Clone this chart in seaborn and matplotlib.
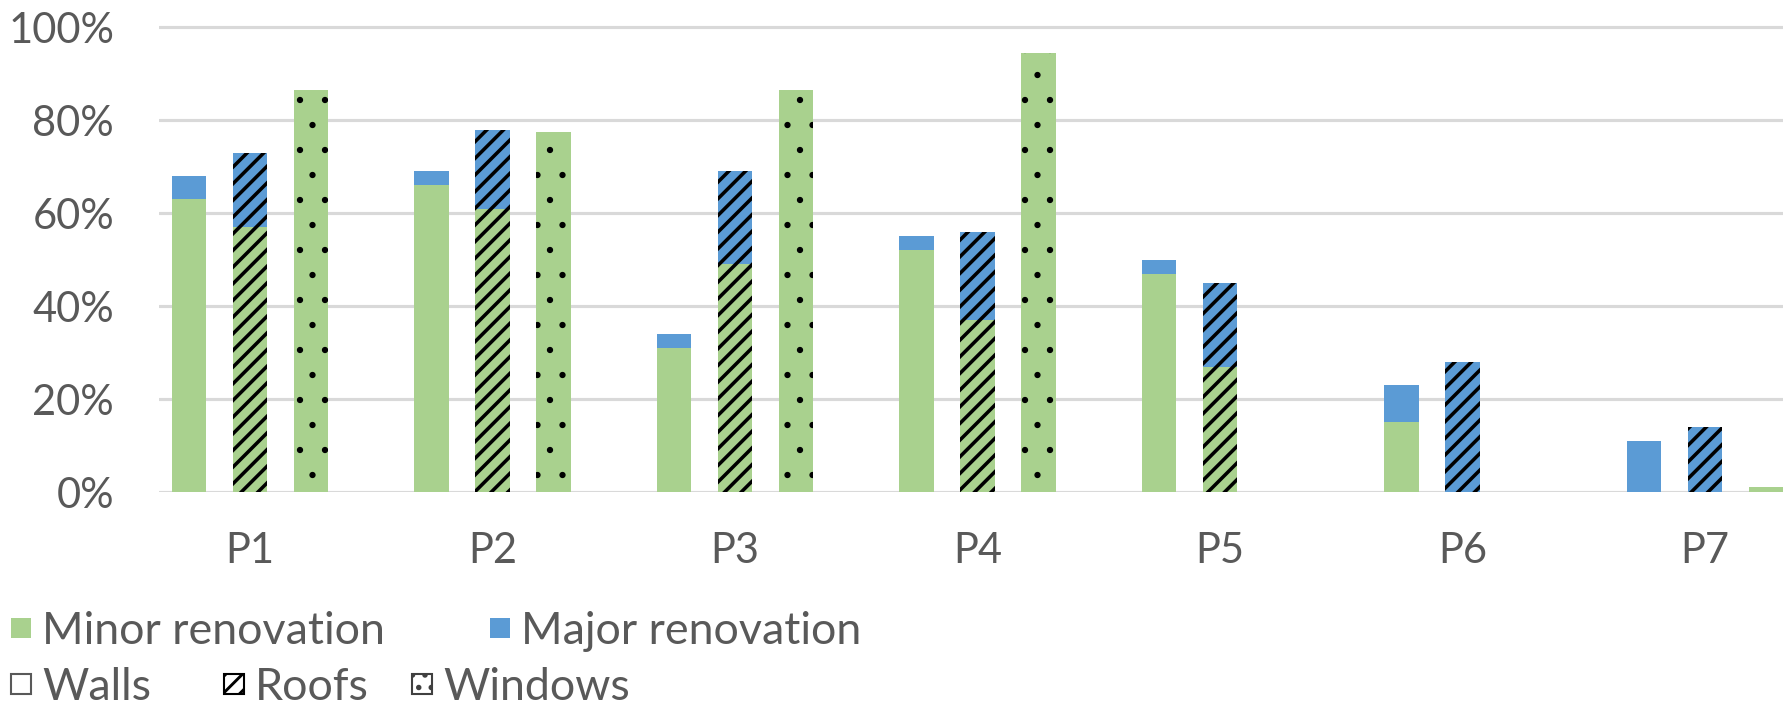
import matplotlib
matplotlib.use("Agg")
import matplotlib.pyplot as plt
from matplotlib.patches import Patch
from matplotlib.ticker import PercentFormatter
import pandas as pd
import seaborn as sns

# ---- data (shares of buildings, %) ----
projects = ["P1", "P2", "P3", "P4", "P5", "P6", "P7"]
elements = ["Walls", "Roofs", "Windows"]

walls_minor = [63, 66, 31, 52, 47, 15, 0]
walls_major = [5, 3, 3, 3, 3, 8, 11]
roofs_minor = [57, 61, 49, 37, 27, 0, 0]
roofs_major = [16, 17, 20, 19, 18, 28, 14]
windows_minor = [86.5, 77.5, 86.5, 94.5, 0, 0, 1]
windows_major = [0, 0, 0, 0, 0, 0, 0]

renovation_labels = ["Minor renovation", "Major renovation"]
y_ticks = [0, 20, 40, 60, 80, 100]

# ---- styling ----
W, H, DPI = 1783, 706, 150
MINOR_COLOR = "#A9D18E"
MAJOR_COLOR = "#5B9BD5"
TEXT_COLOR = "#595959"
GRID_COLOR = "#D9D9D9"
HATCHES = {"Walls": "", "Roofs": "///", "Windows": "."}
HATCH_LW = {"Walls": 1.0, "Roofs": 1.7, "Windows": 0.6}

minor = {"Walls": walls_minor, "Roofs": roofs_minor, "Windows": windows_minor}
major = {"Walls": walls_major, "Roofs": roofs_major, "Windows": windows_major}

rows = []
for el in elements:
    for p, mi, ma in zip(projects, minor[el], major[el]):
        rows.append({"project": p, "element": el, "minor": mi, "total": mi + ma})
df = pd.DataFrame(rows)

sns.set_theme(style="white")
plt.rcParams["font.family"] = ["Lato", "DejaVu Sans"]
plt.rcParams["hatch.linewidth"] = 1.4
plt.rcParams["hatch.color"] = "black"

fig = plt.figure(figsize=(W / DPI, H / DPI), dpi=DPI)
px_per_pct = (492 - 27.3) / 100
y_top = 102
ax = fig.add_axes([159 / W, (H - 492) / H, (W - 159) / W, y_top * px_per_pct / H])

common = dict(
    data=df, x="project", hue="element", order=projects, hue_order=elements,
    width=0.755, gap=0.435, errorbar=None, saturation=1, legend=False, ax=ax,
)
# full bar height (minor + major) in blue, then the minor share on top in green
sns.barplot(y="total", palette={e: MAJOR_COLOR for e in elements}, **common)
sns.barplot(y="minor", palette={e: MINOR_COLOR for e in elements}, **common)

for i, cont in enumerate(ax.containers):
    el = elements[i % len(elements)]
    for bar in cont:
        bar.set_edgecolor("black")
        bar.set_linewidth(0)
        bar.set_hatch(HATCHES[el])
        if hasattr(bar, "set_hatch_linewidth"):
            bar.set_hatch_linewidth(HATCH_LW[el])

ax.set_xlim(-0.375, 6.322)
ax.set_ylim(0, y_top)
ax.set_yticks(y_ticks)
ax.yaxis.set_major_formatter(PercentFormatter(100, decimals=0))
ax.set_xlabel("")
ax.set_ylabel("")
ax.set_axisbelow(True)
ax.yaxis.grid(True, color=GRID_COLOR, linewidth=1.5)
ax.xaxis.grid(False)
for s in ax.spines.values():
    s.set_visible(False)
ax.tick_params(axis="both", length=0, labelsize=20, labelcolor=TEXT_COLOR)
ax.tick_params(axis="y", pad=21.5)
ax.tick_params(axis="x", pad=19)

# ---- legends: one entry per legend so each sits at its own x ----
fs_leg = 21.5
hl = 0.45
hh = (hl - 0.245) / 0.65
leg_kw = dict(loc="center left", frameon=False, fontsize=fs_leg, handlelength=hl,
              handleheight=hh, handletextpad=0.25, borderpad=0, borderaxespad=0,
              labelcolor=TEXT_COLOR)

row1 = [
    (Patch(facecolor=MINOR_COLOR, edgecolor="none", label=renovation_labels[0]), 11),
    (Patch(facecolor=MAJOR_COLOR, edgecolor="none", label=renovation_labels[1]), 490),
]
row2 = [
    (Patch(facecolor="white", edgecolor=TEXT_COLOR, linewidth=1.0, label=elements[0]), 11),
    (Patch(facecolor="white", edgecolor="black", linewidth=1.0, hatch="///", label=elements[1]), 224),
    (Patch(facecolor="white", edgecolor="#404040", linewidth=1.0, hatch="..", label=elements[2]), 412),
]
for handles, y_px in ((row1, 632), (row2, 688)):
    for handle, x_px in handles:
        fig.legend(handles=[handle], bbox_to_anchor=(x_px / W, 1 - y_px / H), **leg_kw)

fig.savefig("out.png", dpi=DPI, facecolor="white")
